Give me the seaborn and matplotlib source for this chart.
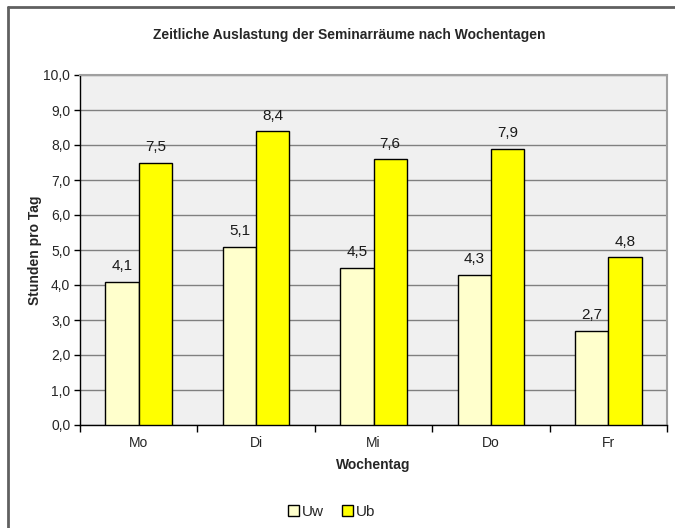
import matplotlib
matplotlib.use("Agg")
import matplotlib.pyplot as plt
import seaborn as sns
import pandas as pd
from matplotlib.lines import Line2D
from matplotlib.patches import Patch

days = ["Mo", "Di", "Mi", "Do", "Fr"]
uw = [4.1, 5.1, 4.5, 4.3, 2.7]
ub = [7.5, 8.4, 7.6, 7.9, 4.8]
series = ["Uw", "Ub"]
colors = ["#FFFFCC", "#FFFF00"]

df = pd.DataFrame({
    "Wochentag": days * 2,
    "Wert": uw + ub,
    "Serie": ["Uw"] * len(days) + ["Ub"] * len(days),
})

sns.set_theme(style="white")
plt.rcParams["font.family"] = ["Liberation Sans", "DejaVu Sans"]

fig = plt.figure(figsize=(6.75, 5.28), dpi=100)
ax = fig.add_axes([80/675, 1-425/528, (667-80)/675, 350/528])
ax.set_facecolor("#F0F0F0")

sns.barplot(data=df, x="Wochentag", y="Wert", hue="Serie", hue_order=series,
            palette=colors, width=0.567, edgecolor="black", linewidth=1.0,
            saturation=1, ax=ax, legend=False, zorder=3)

for cont in ax.containers:
    ax.bar_label(cont, labels=[f"{v:.1f}".replace(".", ",") for v in cont.datavalues],
                 padding=6, fontsize=11, color="#1a1a1a")

ax.set_ylim(0, 10)
ax.set_xlim(-0.5, 4.5)
yt = [i for i in range(11)]
ax.set_yticks(yt)
ax.set_yticklabels([f"{v:.1f}".replace(".", ",") for v in yt], fontsize=10)
ax.yaxis.grid(True, color="#808080", linewidth=1, zorder=0)
ax.set_axisbelow(True)
ax.tick_params(axis="y", which="major", direction="out", length=4, width=1, color="black", left=True, pad=3)
ax.tick_params(axis="x", which="major", length=0, labelsize=10, pad=8)
ax.set_xticks([i - 0.5 for i in range(6)], minor=True)
ax.tick_params(axis="x", which="minor", direction="out", length=5, width=1, color="black", bottom=True)

for s in ["top", "right"]:
    ax.spines[s].set_color("#A0A0A0")
    ax.spines[s].set_linewidth(1.5)
for s in ["left", "bottom"]:
    ax.spines[s].set_color("black")
    ax.spines[s].set_linewidth(1)

ax.set_xlabel("Wochentag", fontsize=10, fontweight="bold", labelpad=6)
ax.set_ylabel("Stunden pro Tag", fontsize=10, fontweight="bold", labelpad=1)

fig.text(0.5 + 12/675, 1 - 35/528, "Zeitliche Auslastung der Seminarräume nach Wochentagen",
         ha="center", va="center", fontsize=10, fontweight="bold")

handles = [Patch(facecolor=c, edgecolor="black", linewidth=1) for c in colors]
fig.legend(handles, series, loc="center", bbox_to_anchor=(332/675, 1 - 512/528),
           ncol=2, frameon=False, fontsize=11, handlelength=0.7, handleheight=0.7,
           handletextpad=0.2, columnspacing=1.2)

# outer chart frame (left and top edges visible)
fig.add_artist(Line2D([8/675, 8/675], [0, 1 - 7/528], transform=fig.transFigure,
                      color="#606060", linewidth=2))
fig.add_artist(Line2D([8/675, 1], [1 - 7/528, 1 - 7/528], transform=fig.transFigure,
                      color="#606060", linewidth=2))

fig.savefig("out.png", dpi=100, facecolor="white")
